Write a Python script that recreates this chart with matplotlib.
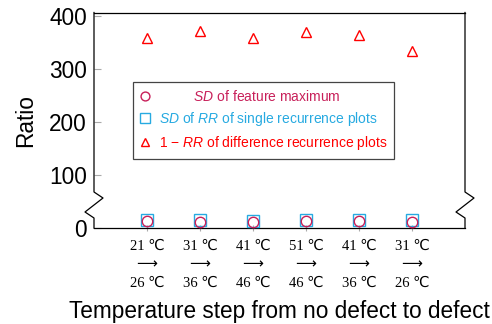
import matplotlib
matplotlib.use("Agg")
import matplotlib.pyplot as plt
from matplotlib.lines import Line2D

plt.rcParams['font.family'] = ['Liberation Sans', 'DejaVu Sans']
plt.rcParams['mathtext.fontset'] = 'custom'
plt.rcParams['mathtext.rm'] = 'Liberation Sans'
plt.rcParams['mathtext.it'] = 'Liberation Sans:italic'

categories = ["21 ℃\n⟶\n26 ℃", "31 ℃\n⟶\n36 ℃", "41 ℃\n⟶\n46 ℃",
              "51 ℃\n⟶\n46 ℃", "41 ℃\n⟶\n36 ℃", "31 ℃\n⟶\n26 ℃"]
sd_feature_max = [13, 12, 11, 13, 13, 12]
sd_rr_single = [15, 15, 14, 15, 15, 15]
one_minus_rr_diff = [358, 372, 358, 370, 364, 333]
yticks = [0, 100, 200, 300, 400]

c_circ = '#C8205A'
c_sq = '#27AAE1'
c_tri = '#FF0000'

fig = plt.figure(figsize=(4.92, 3.24), dpi=100)
ax = fig.add_axes([94/492, 1-228/324, 371/492, 215.5/324])

x = list(range(1, len(categories) + 1))
ax.plot(x, sd_rr_single, ls='none', marker='s', ms=8.5, mfc='none', mec=c_sq, mew=1.0,
        label=r'$\it{SD}$ of $\it{RR}$ of single recurrence plots', zorder=3)
ax.plot(x, sd_feature_max, ls='none', marker='o', ms=7.5, mfc='none', mec=c_circ, mew=1.0,
        label='         ' + r'$\it{SD}$ of feature maximum', zorder=4)
ax.plot(x, one_minus_rr_diff, ls='none', marker='^', ms=6.5, mfc='none', mec=c_tri, mew=1.0,
        label=r'1 $-$ $\it{RR}$ of difference recurrence plots', zorder=3)

ax.set_xlim(0, 7)
ax.set_ylim(0, 406)
ax.set_xticks(x)
ax.set_xticklabels(categories, family=['Liberation Serif', 'DejaVu Sans'], fontsize=10.5,
                   linespacing=1.55)
ax.set_yticks(yticks)
ax.tick_params(axis='y', direction='in', length=5, color='#aaaaaa', labelsize=16.3, pad=5)
ax.tick_params(axis='x', direction='inout', length=5, color='#aaaaaa', pad=6)
ax.set_ylabel('Ratio', fontsize=16.3, labelpad=9)
ax.set_xlabel('Temperature step from no defect to defect', fontsize=16.3, labelpad=7.5)

for s in ['left', 'right']:
    ax.spines[s].set_visible(False)
ax.spines['top'].set_linewidth(0.9)
ax.spines['bottom'].set_linewidth(0.9)

def px_to_ax(px, py):
    return ((px - 94) / 371, (228 - py) / 215.5)

left_pts = [(94, 12.5), (94, 192), (103, 198), (85, 212), (94, 218), (94, 228)]
right_pts = [(465, 12.5), (465, 192), (474, 198), (456, 212), (465, 218), (465, 228)]
for pts in (left_pts, right_pts):
    xs, ys = zip(*[px_to_ax(a, b) for a, b in pts])
    ax.add_line(Line2D(xs, ys, transform=ax.transAxes, color='black', lw=0.9,
                       clip_on=False, zorder=5))

handles, labels = ax.get_legend_handles_labels()
order = [1, 0, 2]
leg = ax.legend([handles[i] for i in order], [labels[i] for i in order],
                loc='center', bbox_to_anchor=(0.457, 0.50), fontsize=10,
                frameon=True, fancybox=False, edgecolor='#444444', framealpha=1,
                handlelength=0.8, handletextpad=0.6, borderpad=0.5, labelspacing=0.42,
                markerscale=0.85)
leg.get_frame().set_linewidth(0.9)
for t, c in zip(leg.get_texts(), [c_circ, c_sq, c_tri]):
    t.set_color(c)

fig.savefig('out.png', dpi=100)
